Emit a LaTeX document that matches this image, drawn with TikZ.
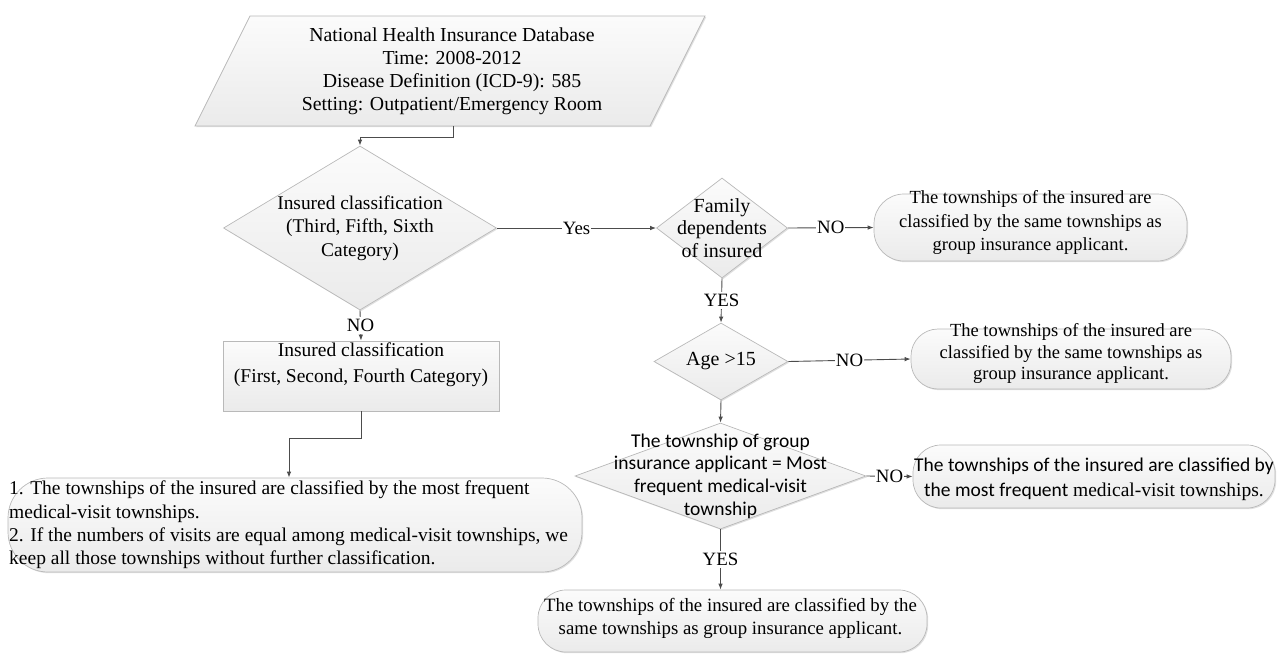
\documentclass[tikz,border=0pt]{standalone}
\usepackage{fontspec}
\setmainfont{Liberation Serif}
\newfontfamily\calib{Carlito}
\usetikzlibrary{arrows.meta,shapes.geometric,shadows,calc}
\begin{document}
\begin{tikzpicture}[x=1pt,y=-1pt,
  txt/.style={font=\fontsize{20}{23.2}\selectfont, align=center, inner sep=0pt},
  shp/.style={draw=gray!55, line width=0.7pt, top color=gray!3, bottom color=gray!16,
    drop shadow={shadow xshift=1.2pt, shadow yshift=-1.2pt, fill=gray!40, opacity=0.6}},
  dia/.style={shp, diamond, inner sep=0pt},
  pill/.style={shp, rectangle, inner sep=0pt},
  conn/.style={draw=black!70, line width=0.9pt},
  arr/.style={conn, -{Latex[length=6pt,width=4.5pt]}},
  lbl/.style={txt, font=\fontsize{18.8}{22}\selectfont, fill=white, inner xsep=1pt, inner ysep=2pt}]
\useasboundingbox (0,0) rectangle (1277,654);

% database parallelogram
\path[shp] (250,16) -- (705,16) -- (650,126) -- (195,126) -- cycle;
\node[txt, font=\fontsize{19.8}{23}\selectfont] (db) at (452,71.5) {National Health Insurance Database\\Time: 2008-2012\\Disease Definition (ICD-9): 585\\Setting: Outpatient/Emergency Room};
\coordinate (dbB) at (453,126);

% decisions
\node[dia, minimum width=273pt, minimum height=164pt,
  label={[txt, font=\fontsize{19.4}{23.5}\selectfont]center:{Insured classification\\(Third, Fifth, Sixth\\Category)}}] (d1) at (360,228) {};
\node[dia, minimum width=131pt, minimum height=100pt,
  label={[txt, font=\fontsize{20}{22.5}\selectfont]center:{Family\\dependents\\of insured}}] (fam) at (722,228) {};
\node[dia, minimum width=134pt, minimum height=77pt,
  label={[txt]center:{Age >15}}] (age) at (721,361.5) {};
\node[dia, minimum width=291pt, minimum height=106pt,
  label={[txt, font=\calib\fontsize{19.5}{22.8}\selectfont]center:{The township of group\\insurance applicant = Most\\frequent medical-visit\\township}}] (town) at (720.5,476) {};

% process rectangle
\node[pill, minimum width=276pt, minimum height=70pt,
  label={[txt, yshift=11pt, font=\fontsize{19.5}{26}\selectfont]center:{Insured classification\\(First, Second, Fourth Category)}}] (r1) at (361,376) {};

% terminal boxes
\node[pill, rounded corners=30pt, minimum width=313pt, minimum height=67pt,
  label={[txt, yshift=5pt, font=\fontsize{18.5}{23.5}\selectfont]center:{The townships of the insured are\\classified by the same townships as\\group insurance applicant.}}] (b1) at (1030.5,227.5) {};
\node[pill, rounded corners=27pt, minimum width=320pt, minimum height=60pt,
  label={[txt, yshift=5.5pt, font=\fontsize{18.5}{21.5}\selectfont]center:{The townships of the insured are\\classified by the same townships as\\group insurance applicant.}}] (b2) at (1071,359) {};
\node[pill, rounded corners=28pt, minimum width=362pt, minimum height=63pt,
  label={[txt, yshift=-3pt, font=\fontsize{19.5}{25}\selectfont]center:{{\calib The townships of the insured are classified by}\\{\calib the most frequent} medical-visit townships.}}] (b3) at (1094,476.5) {};
\node[pill, rounded corners=28pt, minimum width=389pt, minimum height=62pt,
  label={[txt, yshift=2.5pt, xshift=-2pt, font=\fontsize{18.8}{23}\selectfont]center:{The townships of the insured are classified by the\\same townships as group insurance applicant.}}] (b4) at (732.5,621) {};
\node[pill, rounded corners=40pt, minimum width=574pt, minimum height=94pt] (b5) at (295,525) {};
\node[txt, align=left, anchor=west, font=\fontsize{19.5}{23.3}\selectfont] (b5t) at (9,525) {1. The townships of the insured are classified by the most frequent\\medical-visit townships.\\2. If the numbers of visits are equal among medical-visit townships, we\\keep all those townships without further classification.};

% connectors
\draw[arr] (dbB) -- (dbB |- 0,137) -| (d1.north);
\draw[arr] (d1.east) -- node[lbl] {Yes} (fam.west);
\draw[arr] (d1.south) -- node[lbl] {NO} (r1.north);
\draw[arr] (fam.east) -- node[lbl] {NO} (b1.west);
\draw[arr] (fam.south) -- node[lbl] {YES} (age.north);
\draw[arr] (age.east) -- node[lbl] {NO} (b2.west);
\draw[arr] (age.south) -- (town.north);
\draw[arr] (town.east) -- node[lbl, inner xsep=0.5pt] {NO} (b3.west);
\draw[arr] (town.south) -- node[lbl] {YES} (town.south |- b4.north);
\draw[arr] (r1.south) -- ++(0,27) -| ($(b5.north)+(-6,0)$);
\end{tikzpicture}
\end{document}
